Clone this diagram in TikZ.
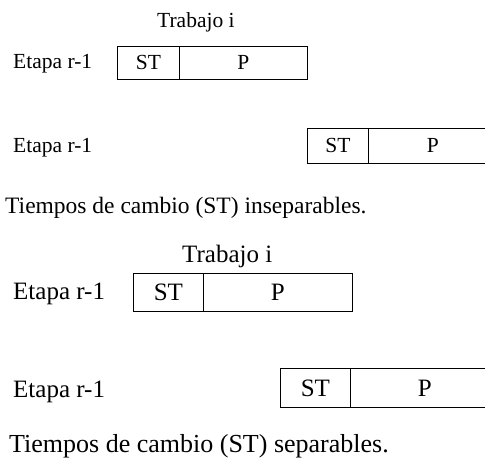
\documentclass[tikz,border=0pt]{standalone}
\usepackage{fontspec}
\setmainfont{Liberation Serif}
\begin{document}
\begin{tikzpicture}[x=1pt,y=-1pt,
  fA/.style={font=\fontsize{21.5}{24}\selectfont},
  fB/.style={font=\fontsize{25}{28}\selectfont},
  fC/.style={font=\fontsize{23.5}{26}\selectfont},
  fD/.style={font=\fontsize{26}{29}\selectfont},
  lbl/.style={inner sep=0pt, anchor=base west},
  cell/.style={draw, line width=0.8pt, inner sep=0pt, anchor=north west}]
\useasboundingbox (0,0) rectangle (485,465);
\clip (0,0) rectangle (485,465);
% --- inseparables ---
\node[lbl,fA] (t1) at (157,28) {Trabajo i};
\node[lbl,fA] (e1) at (13,69) {Etapa r-1};
\node[cell,fA,minimum width=62,minimum height=33] (st1) at (117,46) {ST};
\node[cell,fA,minimum width=128,minimum height=33] (p1) at (179,46) {P};
\node[lbl,fA] (e2) at (13,153) {Etapa r-1};
\node[cell,fA,minimum width=61,minimum height=35] (st2) at (307,128) {ST};
\node[cell,fA,minimum width=129,minimum height=35] (p2) at (368,128) {P};
\node[lbl,fC] (c1) at (5,214) {Tiempos de cambio (ST) inseparables.};
% --- separables ---
\node[lbl,fB] (t2) at (182,263) {Trabajo i};
\node[lbl,fB] (e3) at (13,300) {Etapa r-1};
\node[cell,fB,minimum width=70,minimum height=38] (st3) at (133,273) {ST};
\node[cell,fB,minimum width=149,minimum height=38] (p3) at (203,273) {P};
\node[lbl,fB] (e4) at (13,397) {Etapa r-1};
\node[cell,fB,minimum width=70,minimum height=39] (st4) at (280,368) {ST};
\node[cell,fB,minimum width=149,minimum height=39] (p4) at (350,368) {P};
\node[lbl,fD] (c2) at (9,452) {Tiempos de cambio (ST) separables.};
\end{tikzpicture}
\end{document}
